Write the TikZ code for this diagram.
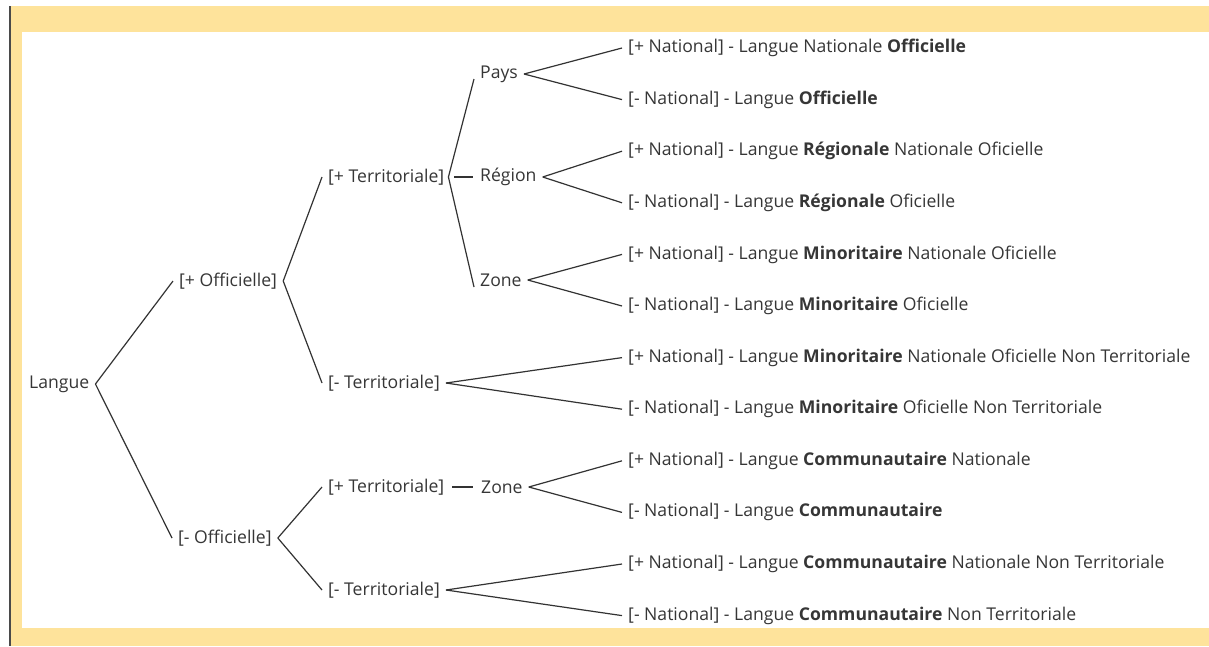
\documentclass[tikz,border=0pt]{standalone}
\usepackage{fontspec}
\setmainfont{Open Sans}
\definecolor{frameyellow}{HTML}{FEE39B}
\definecolor{txt}{HTML}{363636}
\definecolor{ln}{HTML}{333333}
\definecolor{edge}{HTML}{4A4A4A}
\begin{document}
\begin{tikzpicture}[x=1pt,y=-1pt,
  lbl/.style={font=\fontsize{17.6}{21}\selectfont, text=txt, inner xsep=6pt, inner ysep=1pt, anchor=west},
  conn/.style={draw=ln, line width=1.2pt}]
\useasboundingbox (0,0) rectangle (1209,646);
% frame
\fill[white] (0,0) rectangle (1209,646);
\fill[frameyellow] (11,6) rectangle (1209,646);
\fill[white] (22,32) rectangle (1209,628);
\fill[edge] (9,6) rectangle (11,646);
% nodes
\node[lbl] (lang) at (23,384) {Langue};
\node[lbl] (poff) at (173,281) {[+ Officielle]};
\node[lbl] (moff) at (172,538) {[- Officielle]};
\node[lbl] (pt1) at (322,177) {[+ Territoriale]};
\node[lbl] (mt1) at (322,383) {[- Territoriale]};
\node[lbl] (pt2) at (322,487) {[+ Territoriale]};
\node[lbl] (mt2) at (322,590) {[- Territoriale]};
\node[lbl] (pays) at (474,74) {Pays};
\node[lbl] (reg) at (474,177) {Région};
\node[lbl] (zone1) at (474,280) {Zone};
\node[lbl] (zone2) at (475,487) {Zone};
\node[lbl] (l1) at (622,48) {[+ National] - Langue Nationale \textbf{Officielle}};
\node[lbl] (l2) at (622,99.6) {[- National] - Langue \textbf{Officielle}};
\node[lbl] (l3) at (622,151.2) {[+ National] - Langue \textbf{Régionale} Nationale Oficielle};
\node[lbl] (l4) at (622,202.8) {[- National] - Langue \textbf{Régionale} Oficielle};
\node[lbl] (l5) at (622,254.4) {[+ National] - Langue \textbf{Minoritaire} Nationale Oficielle};
\node[lbl] (l6) at (622,306) {[- National] - Langue \textbf{Minoritaire} Oficielle};
\node[lbl] (l7) at (622,357.6) {[+ National] - Langue \textbf{Minoritaire} Nationale Oficielle Non Territoriale};
\node[lbl] (l8) at (622,409.2) {[- National] - Langue \textbf{Minoritaire} Oficielle Non Territoriale};
\node[lbl] (l9) at (622,460.8) {[+ National] - Langue \textbf{Communautaire} Nationale};
\node[lbl] (l10) at (622,512.4) {[- National] - Langue \textbf{Communautaire}};
\node[lbl] (l11) at (622,564) {[+ National] - Langue \textbf{Communautaire} Nationale Non Territoriale};
\node[lbl] (l12) at (622,615.6) {[- National] - Langue \textbf{Communautaire} Non Territoriale};
% connectors
\draw[conn] (lang.east) -- (poff.west);
\draw[conn] (lang.east) -- (moff.west);
\draw[conn] (poff.east) -- (pt1.west);
\draw[conn] (poff.east) -- (mt1.west);
\draw[conn] (moff.east) -- (pt2.west);
\draw[conn] (moff.east) -- (mt2.west);
\draw[conn] ([xshift=-2pt]pt1.east) -- ([yshift=-5pt]pays.west);
\draw[conn] ([xshift=4pt]pt1.east) -- ([xshift=-1pt]reg.west);
\draw[conn] ([xshift=-2pt]pt1.east) -- ([yshift=-7pt]zone1.west);
\draw[conn] ([xshift=2pt]pt2.east) -- ([xshift=-2pt]zone2.west);
\foreach \p/\a/\b in {pays/l1/l2, reg/l3/l4, zone1/l5/l6, mt1/l7/l8, zone2/l9/l10, mt2/l11/l12}{
  \draw[conn] (\p.east) -- (\a.west);
  \draw[conn] (\p.east) -- (\b.west);
}
\end{tikzpicture}
\end{document}
